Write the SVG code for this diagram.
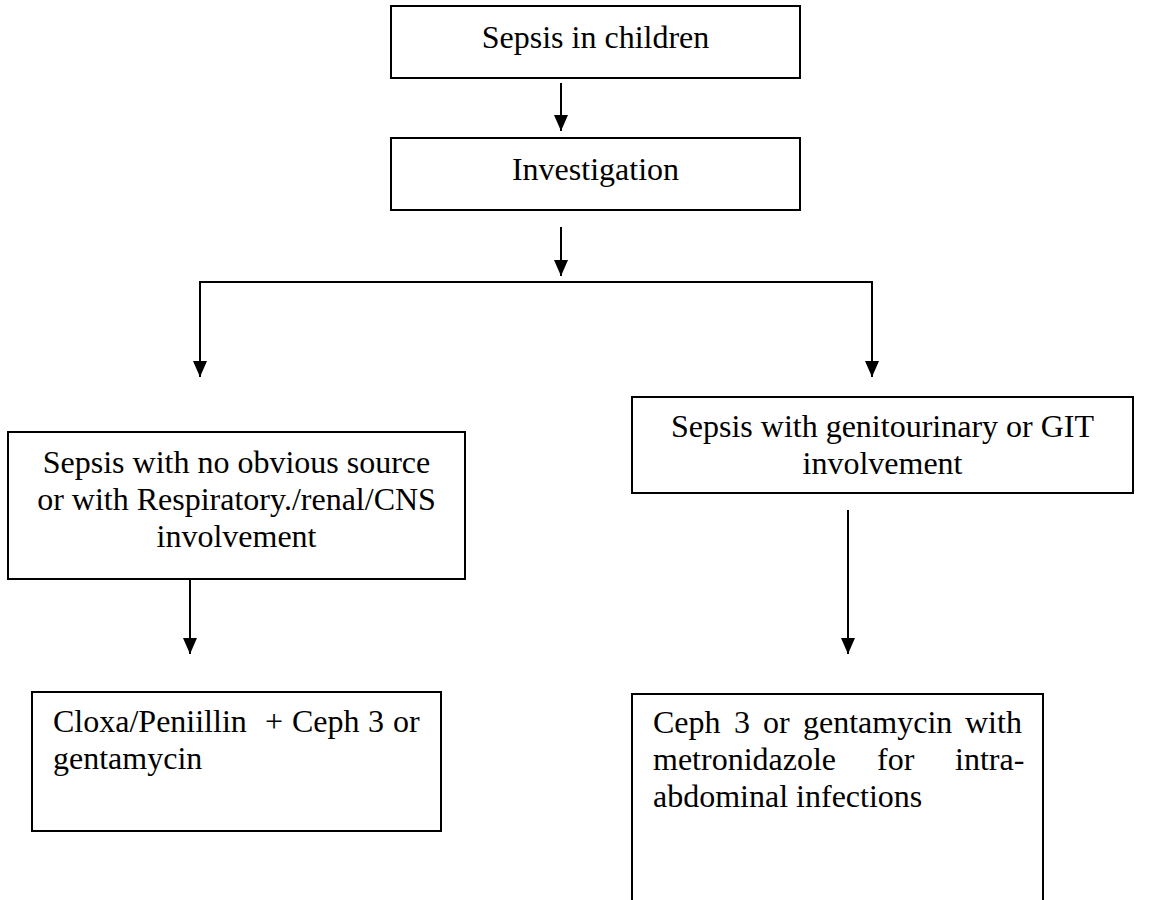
<svg xmlns="http://www.w3.org/2000/svg" width="1156" height="900" viewBox="0 0 1156 900">
<defs>
<marker id="ah" markerWidth="16" markerHeight="14" refX="16" refY="7" orient="auto" markerUnits="userSpaceOnUse" viewBox="0 0 16 14">
<path d="M0,0 L16,7 L0,14 Z" fill="#000"/>
</marker>
</defs>
<style>
.box{fill:#fff;stroke:#000;stroke-width:2}
.t{font-family:"Liberation Serif","Times New Roman","DejaVu Serif",serif;font-size:32px;fill:#000}
.c{text-anchor:middle}
.ln{fill:none;stroke:#000;stroke-width:2}
</style>
<rect width="1156" height="900" fill="#fff"/>
<g id="connectors">
<line class="ln" x1="561" y1="83" x2="561" y2="131" marker-end="url(#ah)"/>
<line class="ln" x1="561" y1="227" x2="561" y2="276" marker-end="url(#ah)"/>
<polyline class="ln" points="200,360 200,282 872,282 872,360"/>
<line class="ln" x1="200" y1="350" x2="200" y2="377" marker-end="url(#ah)"/>
<line class="ln" x1="872" y1="350" x2="872" y2="377" marker-end="url(#ah)"/>
<line class="ln" x1="190" y1="579" x2="190" y2="654" marker-end="url(#ah)"/>
<line class="ln" x1="848" y1="510" x2="848" y2="654" marker-end="url(#ah)"/>
</g>
<g id="n1">
<rect class="box" x="391" y="6" width="409" height="72"/>
<text class="t c" x="595.5" y="48">Sepsis in children</text>
</g>
<g id="n2">
<rect class="box" x="391" y="138" width="409" height="72"/>
<text class="t c" x="595.5" y="180">Investigation</text>
</g>
<g id="n3">
<rect class="box" x="8" y="432" width="457" height="147"/>
<text class="t c" x="236.5" y="473">Sepsis with no obvious source</text>
<text class="t c" x="236.5" y="510">or with Respiratory./renal/CNS</text>
<text class="t c" x="236.5" y="547">involvement</text>
</g>
<g id="n4">
<rect class="box" x="632" y="397" width="501" height="96"/>
<text class="t c" x="882.5" y="437">Sepsis with genitourinary or GIT</text>
<text class="t c" x="882.5" y="474">involvement</text>
</g>
<g id="n5">
<rect class="box" x="32" y="692" width="409" height="139"/>
<text class="t" y="732"><tspan x="53">Cloxa/Peniillin</tspan><tspan x="265">+</tspan><tspan x="292">Ceph</tspan><tspan x="368">3</tspan><tspan x="393">or</tspan></text>
<text class="t" x="53" y="769">gentamycin</text>
</g>
<g id="n6">
<path class="box" d="M632,901 L632,694 L1043,694 L1043,901"/>
<text class="t" y="733"><tspan x="653">Ceph</tspan><tspan x="734">3</tspan><tspan x="763">or</tspan><tspan x="803">gentamycin</tspan><tspan x="965">with</tspan></text>
<text class="t" y="770"><tspan x="653">metronidazole</tspan><tspan x="877">for</tspan><tspan x="955">intra-</tspan></text>
<text class="t" x="653" y="807">abdominal infections</text>
</g>
</svg>
